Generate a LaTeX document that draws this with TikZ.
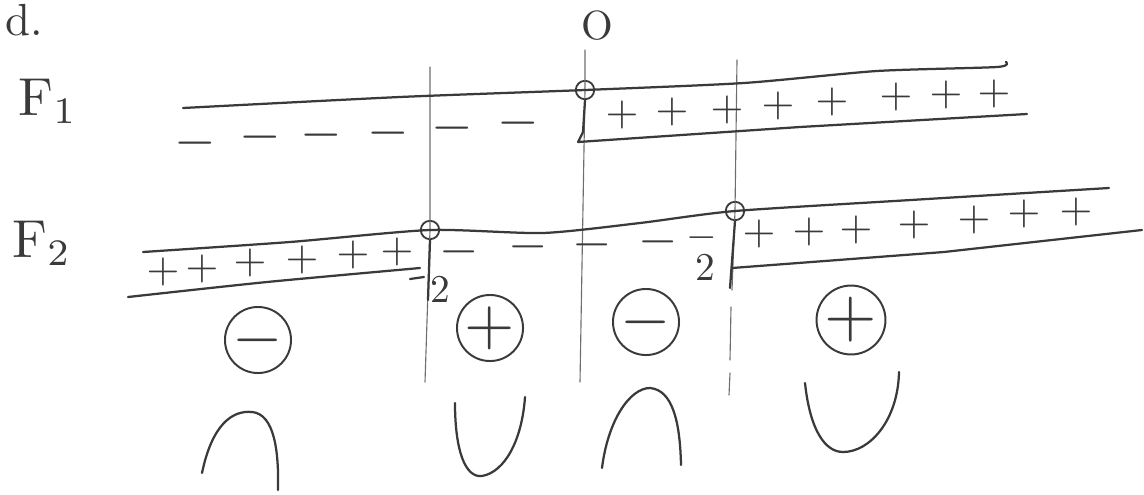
\documentclass[tikz,border=0pt]{standalone}
\usepackage{graphicx}
\usepackage{tikz}
\definecolor{pencil}{HTML}{3A3A3A}
\definecolor{pencillight}{HTML}{6E6E6E}
\newcommand{\chgplus}[1]{\scalebox{#1}{$+$}}
\newcommand{\chgminus}[1]{\scalebox{#1}[#1]{$-$}}

\begin{document}
\begin{tikzpicture}[
  x=0.025cm, y=-0.025cm,
  band/.style = {draw=pencil, line width=1.6pt, line cap=round, line join=round},
  axisline/.style = {draw=pencillight, line width=0.8pt, line cap=round},
  junc/.style = {circle, draw=pencil, line width=1.3pt, minimum size=0.46cm, inner sep=0pt},
  poschg/.style = {text=pencil, inner sep=0pt},
  negchg/.style = {text=pencil, inner sep=0pt},
  ion/.style = {circle, draw=pencil, line width=1.4pt, minimum size=1.42cm, inner sep=0pt, text=pencil},
  lbl/.style = {text=pencil, inner sep=0pt},
]
\useasboundingbox (0,0) rectangle (1144,494);

\node[lbl] (item) at (24,20) {\scalebox{3.2}{d.}};
\node[lbl] (orig) at (597,26) {\scalebox{2.9}{O}};
\node[lbl] (f1) at (48,101) {\scalebox{3.8}{$\mathrm{F}_1$}};
\node[lbl] (f2) at (42,243) {\scalebox{3.8}{$\mathrm{F}_2$}};

\node[junc] (j0) at (585,90) {};
\node[junc] (j1) at (430,230) {};
\node[junc] (j2) at (735,211) {};

\draw[axisline] (430,67) -- (j1.center) -- (425,382);
\draw[axisline] (585,50) -- (j0.center) -- (580,382);
\draw[axisline] (737,60) -- (j2.center) -- (732,290);
\draw[axisline] (731,307) -- (730,360);
\draw[axisline] (730,373) -- (729,395);

\draw[band] plot[smooth, tension=0.4] coordinates {(183,108) (400,97) (j0.center) (744,83) (877,71) (997,67) (1006,62)};
\draw[band] (j0.south) -- (583,132) -- (578,142) -- (800,127) -- (1027,114);

\draw[band] plot[smooth, tension=0.4] coordinates {(143,252) (290,242) (j1.center) (543,233) (640,223) (j2.center) (911,200) (1109,188)};
\draw[band] plot[smooth, tension=0.4] coordinates {(128,297) (267,282) (420,268)};
\draw[band] (410,279) -- (424,277);
\draw[band] (j1.south) -- (428,300);
\draw[band] (j2.south) -- (730,288);
\draw[band] (732,268) -- (944,252) -- (1142,230);

\foreach \px/\py [count=\i] in {622/115, 672/112, 727/110, 778/106, 832/102, 896/97, 946/95, 994/94}
  \node[poschg] (pa\i) at (\px,\py) {\chgplus{3}};
\foreach \px/\py [count=\i] in {195/143, 260/137, 321/135, 388/133, 452/128, 518/123}
  \node[negchg] (na\i) at (\px,\py) {\chgminus{3.8}};
\foreach \px/\py [count=\i] in {163/272, 202/269, 250/263, 302/260, 353/255, 397/252}
  \node[poschg] (pb\i) at (\px,\py) {\chgplus{3}};
\foreach \px/\py [count=\i] in {459/252, 528/247, 592/245, 658/242}
  \node[negchg] (nb\i) at (\px,\py) {\chgminus{3.6}};
\node[negchg] (nb5) at (702,238) {\chgminus{2.8}};
\foreach \px/\py [count=\i] in {759/234, 809/232, 856/230, 914/225, 974/220, 1024/214, 1076/212}
  \node[poschg] (pc\i) at (\px,\py) {\chgplus{3}};

\node[lbl] (twoa) at (440,289) {\scalebox{2.8}{2}};
\node[lbl] (twob) at (705,267) {\scalebox{2.8}{2}};

\node[ion] (ia) at (258,340) {\chgminus{4.6}};
\node[ion] (ib) at (490,328) {\chgplus{4.6}};
\node[ion] (ic) at (646,322) {\chgminus{4.6}};
\node[ion, minimum size=1.62cm] (id) at (851,320) {\chgplus{4.8}};

\draw[band] (202,473) .. controls (212,425) and (232,410) .. (252,412) .. controls (274,414) and (279,450) .. (278,490);
\draw[band] (455,403) .. controls (455,450) and (465,478) .. (482,476) .. controls (505,472) and (522,440) .. (525,397);
\draw[band] (602,468) .. controls (608,420) and (630,388) .. (650,388) .. controls (672,390) and (680,420) .. (681,465);
\draw[band] (805,383) .. controls (810,430) and (825,452) .. (843,452) .. controls (870,452) and (898,420) .. (899,372);
\end{tikzpicture}
\end{document}
